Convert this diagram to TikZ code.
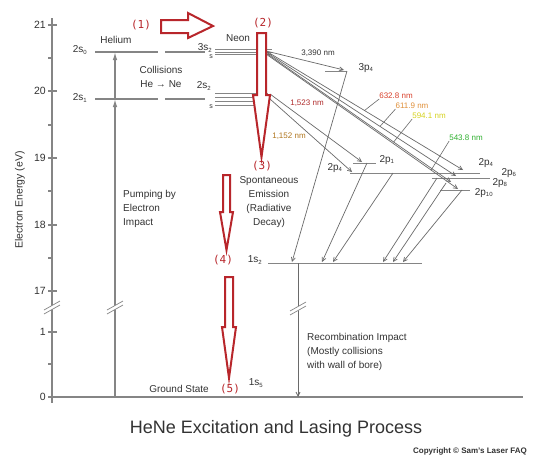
\documentclass[tikz,border=0pt]{standalone}
\usepackage{fontspec}
\setmainfont{Liberation Sans}
\newfontfamily\labmono{DejaVu Sans Mono}
\usetikzlibrary{arrows.meta,calc}
\definecolor{lvl}{HTML}{858585}
\definecolor{txt}{HTML}{333333}
\definecolor{redA}{HTML}{B8262B}
\definecolor{nmA}{HTML}{D9402B}
\definecolor{nmB}{HTML}{E0903A}
\definecolor{nmC}{HTML}{D6D21E}
\definecolor{nmD}{HTML}{2FB02F}
\definecolor{nmE}{HTML}{B02C2C}
\definecolor{nmF}{HTML}{B0761E}
\begin{document}
\begin{tikzpicture}[x=1pt,y=-1pt,
  lvlline/.style={draw=lvl,line width=1.1pt},
  axisline/.style={draw=lvl,line width=1.5pt},
  trans/.style={draw=lvl!80!black,line width=0.7pt,-{Straight Barb[length=4pt,width=4pt]}},
  leader/.style={draw=lvl!80!black,line width=0.6pt},
  lab/.style={text=txt,font=\fontsize{10}{14}\selectfont,inner sep=0pt},
  sublab/.style={text=txt,font=\fontsize{7}{8}\selectfont,inner sep=0pt},
  nmlab/.style={font=\fontsize{8}{9}\selectfont,inner sep=0pt},
  redlab/.style={text=redA,font=\labmono\fontsize{11}{12}\selectfont,inner sep=0pt},
  redarrow/.style={draw=redA,line width=2pt,fill=white,line join=miter},
  brk/.pic={\fill[white] (-8,3)--(8,-6)--(8,-2)--(-8,7)--cycle;
            \draw[lvl,line width=0.7pt] (-8,3)--(8,-6) (-8,7)--(8,-2);}
]
\useasboundingbox (0,0) rectangle (545,464);
\fill[white] (0,0) rectangle (545,464);

% ---- axis ----
\coordinate (axtop) at (52,18);
\coordinate (axbot) at (52,403);
\draw[axisline] (axtop) -- (axbot);
\foreach \yy in {25,91,158,225,291,332,397} \draw[lvl,line width=1.2pt] (48,\yy) -- (57,\yy);
\foreach \yy in {58,125,191,258,364} \draw[lvl,line width=1.2pt] (48,\yy) -- (52,\yy);
\foreach \yy/\t in {25/21,91/20,158/19,225/18,291/17,332/1,397/0}
  \node[lab,anchor=east,font=\fontsize{10.5}{12}\selectfont] at (46,\yy) {\t};
\node[lab,rotate=90,font=\fontsize{10.5}{12}\selectfont] (ylab) at (20,200) {Electron Energy (eV)};
\coordinate (baseL) at (52,397);
\coordinate (baseR) at (523,397);
\draw[axisline] (baseL) -- (baseR);

% ---- helium ----
\coordinate (he0a) at (95,52);  \coordinate (he0b) at (158,52);
\coordinate (he0c) at (165,52); \coordinate (he0d) at (205,52);
\coordinate (he1a) at (95,99);  \coordinate (he1b) at (158,99);
\coordinate (he1c) at (165,99); \coordinate (he1d) at (205,99);
\draw[lvlline] (he0a) -- (he0b) (he0c) -- (he0d) (he1a) -- (he1b) (he1c) -- (he1d);
\node[lab] (helium) at (116,40) {Helium};
\node[lab] (s0) at (80,50) {2s$_{\mbox{\fontsize{6}{7}\selectfont 0}}$};
\node[lab] (s1) at (80,98) {2s$_{\mbox{\fontsize{6}{7}\selectfont 1}}$};
\node[lab,align=center] (coll) at (161,77) {Collisions\\He → Ne};

\coordinate (pumpbot) at (115,397);
\coordinate (pumpA) at (115,99);
\coordinate (pumpB) at (115,52);
\draw[draw=lvl,line width=1.3pt,-{Latex[length=8pt,width=4.5pt]}] (pumpbot) -- (pumpA);
\draw[draw=lvl,line width=1.3pt,-{Latex[length=8pt,width=4.5pt]}] (pumpA) -- (pumpB);
\node[lab,align=left,anchor=west] (pump) at (123,209) {Pumping by\\Electron\\Impact};

% ---- neon 3s / 2s ----
\foreach \yy in {49.5,52,54.5} \draw[lvl,line width=0.9pt] (215,\yy) -- (272,\yy);
\foreach \yy in {93,97,101,105} \draw[lvl,line width=0.9pt] (215,\yy) -- (268,\yy);
\node[lab] (neon) at (238,38) {Neon};
\node[lab] (s3) at (205,48) {3s$_{\mbox{\fontsize{6}{7}\selectfont 2}}$};
\node[sublab] (s3b) at (211,57) {s};
\node[lab] (s2) at (204,86) {2s$_{\mbox{\fontsize{6}{7}\selectfont 2}}$};
\node[sublab] (s2b) at (211,107) {s};

\coordinate (n3a) at (266,51);
\coordinate (n3b) at (266,52);
\coordinate (n3c) at (266,53);
\coordinate (n3d) at (266,54);
\coordinate (n2a) at (270,94);
\coordinate (n2b) at (270,99);

% ---- 3p4 ----
\coordinate (p3a) at (325,71); \coordinate (p3b) at (347,71);
\draw[lvlline,line width=0.9pt] (p3a) -- (p3b);
\node[lab] (p34) at (366,68) {3p$_{\mbox{\fontsize{6}{7}\selectfont 4}}$};
\coordinate (p3tip) at (344,70);

% ---- 2p levels ----
\coordinate (p1a) at (353,163); \coordinate (p1b) at (376,163);
\coordinate (p4a) at (350,173); \coordinate (p4b) at (480,173);
\coordinate (p6a) at (432,178); \coordinate (p6b) at (490,178);
\coordinate (p10a) at (440,190); \coordinate (p10b) at (470,190);
\draw[lvlline,line width=0.9pt] (p1a) -- (p1b) (p4a) -- (p4b) (p6a) -- (p6b) (p10a) -- (p10b);
\node[lab] (l2p1) at (387,160) {2p$_{\mbox{\fontsize{6}{7}\selectfont 1}}$};
\node[lab] (l2p4L) at (335,168) {2p$_{\mbox{\fontsize{6}{7}\selectfont 4}}$};
\node[lab] (l2p4R) at (486,163) {2p$_{\mbox{\fontsize{6}{7}\selectfont 4}}$};
\node[lab] (l2p6) at (509,173) {2p$_{\mbox{\fontsize{6}{7}\selectfont 6}}$};
\node[lab] (l2p8) at (500,183) {2p$_{\mbox{\fontsize{6}{7}\selectfont 8}}$};
\node[lab] (l2p10) at (484,193) {2p$_{\mbox{\fontsize{6}{7}\selectfont 10}}$};

% ---- 1s levels ----
\coordinate (s2a) at (268,263); \coordinate (s2b) at (422,263);
\draw[lvlline,line width=0.9pt] (s2a) -- (s2b);
\node[lab] (l1s2) at (255,260) {1s$_{\mbox{\fontsize{6}{7}\selectfont 2}}$};
\node[lab] (l1s5) at (256,383) {1s$_{\mbox{\fontsize{6}{7}\selectfont 5}}$};
\node[lab] (gs) at (179,389) {Ground State};

% ---- transitions from 3s ----
\coordinate (tA) at (463,170);
\coordinate (tB) at (456,176);
\coordinate (tC) at (451,182);
\coordinate (tD) at (458,189);
\draw[trans] (n3a) -- (p3tip);
\draw[trans] (n3a) -- (tA);
\draw[trans] (n3b) -- (tB);
\draw[trans] (n3c) -- (tC);
\draw[trans] (n3d) -- (tD);
\node[nmlab,text=txt] (w3390) at (318,53) {3,390 nm};
\node[nmlab,text=nmA] (w632) at (396,96) {632.8 nm};
\node[nmlab,text=nmB] (w611) at (412,106) {611.9 nm};
\node[nmlab,text=nmC] (w594) at (429,116) {594.1 nm};
\node[nmlab,text=nmD] (w543) at (466,138) {543.8 nm};
\coordinate (cA) at ($(n3a)!0.50!(tA)$);
\coordinate (cB) at ($(n3b)!0.60!(tB)$);
\coordinate (cC) at ($(n3c)!0.69!(tC)$);
\coordinate (cD) at ($(n3d)!0.86!(tD)$);
\draw[leader] (w632.south west) -- (cA);
\draw[leader] (w611.south west) -- (cB);
\draw[leader] (w594.south west) -- (cC);
\draw[leader] (w543.south west) -- (cD);

% ---- transitions from 2s ----
\coordinate (t1p1) at (362,162);
\coordinate (t1p4) at (352,172);
\draw[trans] (n2a) -- (t1p1);
\draw[trans] (n2b) -- (t1p4);
\node[nmlab,text=nmE] (w1523) at (307,103) {1,523 nm};
\node[nmlab,text=nmF] (w1152) at (289,136) {1,152 nm};

% ---- decays to 1s2 ----
\coordinate (d1) at (292,262);
\coordinate (d2) at (322,262);
\coordinate (d3) at (333,262);
\coordinate (d4) at (383,262);
\coordinate (d5) at (393,262);
\coordinate (d6) at (403,262);
\coordinate (u2) at (367,163);
\coordinate (u3) at (393,173);
\coordinate (u4) at (437,178);
\coordinate (u5) at (446,183);
\coordinate (u6) at (462,190);
\draw[trans] (p3b) -- (d1);
\draw[trans] (u2) -- (d2);
\draw[trans] (u3) -- (d3);
\draw[trans] (u4) -- (d4);
\draw[trans] (u5) -- (d5);
\draw[trans] (u6) -- (d6);
\node[lab,align=center] (spont) at (269,202.5) {Spontaneous\\Emission\\(Radiative\\Decay)};

% ---- recombination ----
\coordinate (rtop) at (298,263);
\coordinate (rbot) at (298,397);
\draw[trans,line width=0.8pt] (rtop) -- (rbot);
\node[lab,align=left,anchor=west] (recomb) at (307,352) {Recombination Impact\\(Mostly collisions\\with wall of bore)};

% ---- breaks ----
\pic at (52,307) {brk};
\pic at (115,307) {brk};
\pic at (298,308) {brk};

% ---- red arrows ----
\draw[redarrow] (161,20) -- (188,20) -- (188,13) -- (213,26) -- (188,38) -- (188,33) -- (161,33) -- cycle;
\draw[redarrow] (257,33) -- (266,33) -- (266,95) -- (270,95) -- (261.5,157) -- (253,95) -- (257,95) -- cycle;
\draw[redarrow] (223,175) -- (230,175) -- (230,212) -- (233,212) -- (226.5,250) -- (220,212) -- (223,212) -- cycle;
\draw[redarrow] (225,277) -- (233,277) -- (233,327) -- (236,327) -- (229,378) -- (222,327) -- (225,327) -- cycle;
\node[redlab] (r1) at (141,25) {(1)};
\node[redlab] (r2) at (263,23) {(2)};
\node[redlab] (r3) at (262,166) {(3)};
\node[redlab] (r4) at (223,260) {(4)};
\node[redlab] (r5) at (230,389) {(5)};

% ---- titles ----
\node[lab,font=\fontsize{18}{20}\selectfont] (title) at (276,429) {HeNe Excitation and Lasing Process};
\node[lab,font=\bfseries\fontsize{8}{9}\selectfont] (copy) at (470,451) {Copyright © Sam's Laser FAQ};
\end{tikzpicture}
\end{document}
